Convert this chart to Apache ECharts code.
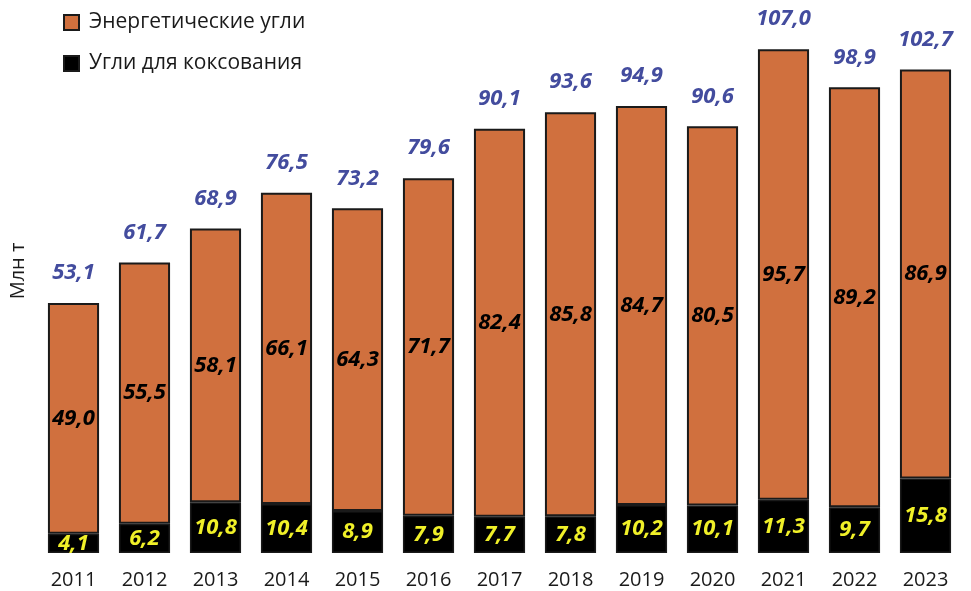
<!DOCTYPE html>
<html>
<head>
<meta charset="utf-8">
<script src="https://cdn.jsdelivr.net/npm/echarts@6/dist/echarts.min.js"></script>
<style>
  html, body { margin: 0; padding: 0; background: #fff; }
  #chart { width: 971px; height: 591px; }
</style>
</head>
<body>
<div id="chart"></div>
<script>
const years = ["2011", "2012", "2013", "2014", "2015", "2016", "2017", "2018", "2019", "2020", "2021", "2022", "2023"];
const coking = [4.1, 6.2, 10.8, 10.4, 8.9, 7.9, 7.7, 7.8, 10.2, 10.1, 11.3, 9.7, 15.8];
const energy = [49.0, 55.5, 58.1, 66.1, 64.3, 71.7, 82.4, 85.8, 84.7, 80.5, 95.7, 89.2, 86.9];
const totals = [53.1, 61.7, 68.9, 76.5, 73.2, 79.6, 90.1, 93.6, 94.9, 90.6, 107.0, 98.9, 102.7];

const fmt = (v) => v.toFixed(1).replace(".", ",");
const font = "'Open Sans', 'Noto Sans', sans-serif";
const valueLabel = { fontSize: 22, fontWeight: "bold", fontStyle: "italic", fontFamily: font };

const chart = echarts.init(document.getElementById("chart"), null, { renderer: "canvas" });
chart.setOption({
  animation: false,
  textStyle: { fontFamily: font },
  grid: { left: 38, right: 10, top: 35, bottom: 38 },
  legend: {
    orient: "vertical",
    left: 58,
    top: 7,
    itemGap: 20,
    itemWidth: 15,
    itemHeight: 15,
    icon: "rect",
    data: ["Энергетические угли", "Угли для коксования"],
    textStyle: { fontSize: 21, color: "#1a1a1a", fontFamily: font, padding: [0, 0, 0, 5] },
  },
  graphic: [
    {
      type: "text",
      x: 18,
      y: 271,
      rotation: Math.PI / 2,
      style: { text: "Млн т", fontSize: 20, fill: "#1a1a1a", fontFamily: font, textAlign: "center", textVerticalAlign: "middle" },
    },
  ],
  xAxis: {
    type: "category",
    data: years,
    axisLine: { show: false },
    axisTick: { show: false },
    axisLabel: { fontSize: 20, color: "#1a1a1a", margin: 17, fontFamily: font },
  },
  yAxis: {
    type: "value",
    min: 0,
    max: 110,
    show: false,
  },
  series: [
    {
      name: "Угли для коксования",
      type: "bar",
      stack: "coal",
      barWidth: "72%",
      data: coking,
      itemStyle: { color: "#000", borderColor: "#1a1a1a", borderWidth: 1.5 },
      label: { show: true, position: "inside", formatter: (p) => fmt(p.value), color: "#f0f028", ...valueLabel },
    },
    {
      name: "Энергетические угли",
      type: "bar",
      stack: "coal",
      data: energy,
      itemStyle: { color: "#d0703e", borderColor: "#1a1a1a", borderWidth: 2 },
      label: { show: true, position: "inside", formatter: (p) => fmt(p.value), color: "#000", ...valueLabel },
    },
    {
      name: "total",
      type: "bar",
      stack: "coal",
      data: totals.map(() => 0),
      itemStyle: { color: "transparent" },
      label: {
        show: true,
        position: "top",
        distance: 19,
        formatter: (p) => fmt(totals[p.dataIndex]),
        color: "#434c9e",
        ...valueLabel,
      },
    },
  ],
});
</script>
</body>
</html>
